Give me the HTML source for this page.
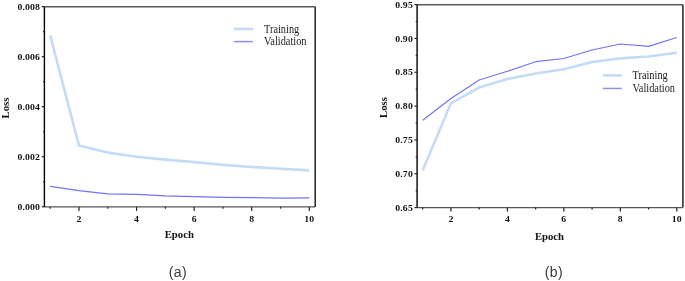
<!DOCTYPE html>
<html><head><meta charset="utf-8"><style>
html,body{margin:0;padding:0;background:#fff;}
body{width:685px;height:281px;overflow:hidden;position:relative;}
svg{position:absolute;left:0;top:0;will-change:transform;}
.tk{font-family:"Liberation Serif",serif;font-weight:bold;font-size:9.5px;letter-spacing:0.12px;fill:#111;}
.at{font-family:"Liberation Serif",serif;font-weight:bold;font-size:10.7px;fill:#111;}
.lg{font-family:"Liberation Serif",serif;font-size:10.35px;fill:#1c1c1c;}
.cap{font-family:"Liberation Sans",sans-serif;font-size:14px;letter-spacing:0.4px;fill:#3a3a3a;}
</style></head><body>
<svg width="685" height="281" viewBox="0 0 685 281">
<line x1="44.4" y1="6.7" x2="315.2" y2="6.7" stroke="#5a5a5a" stroke-width="1.4"/>
<line x1="315.2" y1="6.7" x2="315.2" y2="206.9" stroke="#222" stroke-width="1.5"/>
<line x1="44.4" y1="206.9" x2="315.2" y2="206.9" stroke="#555" stroke-width="1.4"/>
<line x1="44.4" y1="6.7" x2="44.4" y2="206.9" stroke="#000" stroke-width="1.4"/>
<line x1="41.8" y1="206.8" x2="44.4" y2="206.8" stroke="#222" stroke-width="1.2"/>
<text transform="translate(40.00,210.40) scale(1.03,0.94)" class="tk" text-anchor="end">0.000</text>
<line x1="43.0" y1="181.775" x2="44.4" y2="181.775" stroke="#222" stroke-width="1.2"/>
<line x1="41.8" y1="156.75" x2="44.4" y2="156.75" stroke="#222" stroke-width="1.2"/>
<text transform="translate(40.00,160.35) scale(1.03,0.94)" class="tk" text-anchor="end">0.002</text>
<line x1="43.0" y1="131.72500000000002" x2="44.4" y2="131.72500000000002" stroke="#222" stroke-width="1.2"/>
<line x1="41.8" y1="106.7" x2="44.4" y2="106.7" stroke="#222" stroke-width="1.2"/>
<text transform="translate(40.00,110.30) scale(1.03,0.94)" class="tk" text-anchor="end">0.004</text>
<line x1="43.0" y1="81.675" x2="44.4" y2="81.675" stroke="#222" stroke-width="1.2"/>
<line x1="41.8" y1="56.650000000000006" x2="44.4" y2="56.650000000000006" stroke="#222" stroke-width="1.2"/>
<text transform="translate(40.00,60.25) scale(1.03,0.94)" class="tk" text-anchor="end">0.006</text>
<line x1="43.0" y1="31.625" x2="44.4" y2="31.625" stroke="#222" stroke-width="1.2"/>
<line x1="41.8" y1="6.599999999999994" x2="44.4" y2="6.599999999999994" stroke="#222" stroke-width="1.2"/>
<text transform="translate(40.00,10.20) scale(1.03,0.94)" class="tk" text-anchor="end">0.008</text>
<line x1="50.2" y1="206.9" x2="50.2" y2="208.70000000000002" stroke="#222" stroke-width="1.2"/>
<line x1="78.9888888888889" y1="206.9" x2="78.9888888888889" y2="210.9" stroke="#222" stroke-width="1.2"/>
<text transform="translate(78.99,221.50) scale(1.03,0.94)" class="tk" text-anchor="middle">2</text>
<line x1="107.77777777777779" y1="206.9" x2="107.77777777777779" y2="208.70000000000002" stroke="#222" stroke-width="1.2"/>
<line x1="136.56666666666666" y1="206.9" x2="136.56666666666666" y2="210.9" stroke="#222" stroke-width="1.2"/>
<text transform="translate(136.57,221.50) scale(1.03,0.94)" class="tk" text-anchor="middle">4</text>
<line x1="165.35555555555555" y1="206.9" x2="165.35555555555555" y2="208.70000000000002" stroke="#222" stroke-width="1.2"/>
<line x1="194.14444444444445" y1="206.9" x2="194.14444444444445" y2="210.9" stroke="#222" stroke-width="1.2"/>
<text transform="translate(194.14,221.50) scale(1.03,0.94)" class="tk" text-anchor="middle">6</text>
<line x1="222.93333333333334" y1="206.9" x2="222.93333333333334" y2="208.70000000000002" stroke="#222" stroke-width="1.2"/>
<line x1="251.72222222222223" y1="206.9" x2="251.72222222222223" y2="210.9" stroke="#222" stroke-width="1.2"/>
<text transform="translate(251.72,221.50) scale(1.03,0.94)" class="tk" text-anchor="middle">8</text>
<line x1="280.5111111111111" y1="206.9" x2="280.5111111111111" y2="208.70000000000002" stroke="#222" stroke-width="1.2"/>
<line x1="309.3" y1="206.9" x2="309.3" y2="210.9" stroke="#222" stroke-width="1.2"/>
<text transform="translate(309.30,221.50) scale(1.03,0.94)" class="tk" text-anchor="middle">10</text>
<polyline points="50.20,35.30 78.99,145.60 107.78,152.60 136.57,156.80 165.36,159.60 194.14,162.10 222.93,164.90 251.72,167.00 280.51,168.80 309.30,170.40" fill="none" stroke="#c4dbf6" stroke-width="2.6" stroke-linejoin="round"/>
<polyline points="50.20,186.40 78.99,190.70 107.78,193.90 136.57,194.40 165.36,195.90 194.14,196.60 222.93,197.30 251.72,197.60 280.51,198.10 309.30,197.80" fill="none" stroke="#7272f4" stroke-width="1.2" stroke-linejoin="round"/>
<line x1="233.7" y1="29.0" x2="253.0" y2="29.0" stroke="#c4dbf6" stroke-width="2.6"/>
<line x1="233.7" y1="41.6" x2="253.0" y2="41.6" stroke="#8e8ef6" stroke-width="1.5"/>
<text transform="translate(264.0,33.00) scale(1,1.12)" class="lg">Training</text>
<text transform="translate(264.0,45.35) scale(1,1.12)" class="lg">Validation</text>
<text x="179.3" y="237.7" class="at" text-anchor="middle">Epoch</text>
<text transform="translate(8.9,108.0) rotate(-90)" class="at" text-anchor="middle">Loss</text>
<line x1="417.1" y1="4.8" x2="682.9" y2="4.8" stroke="#5a5a5a" stroke-width="1.4"/>
<line x1="682.9" y1="4.8" x2="682.9" y2="207.6" stroke="#222" stroke-width="1.5"/>
<line x1="417.1" y1="207.6" x2="682.9" y2="207.6" stroke="#555" stroke-width="1.4"/>
<line x1="417.1" y1="4.8" x2="417.1" y2="207.6" stroke="#000" stroke-width="1.4"/>
<line x1="414.5" y1="207.6" x2="417.1" y2="207.6" stroke="#222" stroke-width="1.2"/>
<text transform="translate(412.90,210.70) scale(1.03,0.94)" class="tk" text-anchor="end">0.65</text>
<line x1="415.70000000000005" y1="190.6833333333333" x2="417.1" y2="190.6833333333333" stroke="#222" stroke-width="1.2"/>
<line x1="414.5" y1="173.76666666666662" x2="417.1" y2="173.76666666666662" stroke="#222" stroke-width="1.2"/>
<text transform="translate(412.90,176.87) scale(1.03,0.94)" class="tk" text-anchor="end">0.70</text>
<line x1="415.70000000000005" y1="156.84999999999994" x2="417.1" y2="156.84999999999994" stroke="#222" stroke-width="1.2"/>
<line x1="414.5" y1="139.93333333333334" x2="417.1" y2="139.93333333333334" stroke="#222" stroke-width="1.2"/>
<text transform="translate(412.90,143.03) scale(1.03,0.94)" class="tk" text-anchor="end">0.75</text>
<line x1="415.70000000000005" y1="123.01666666666665" x2="417.1" y2="123.01666666666665" stroke="#222" stroke-width="1.2"/>
<line x1="414.5" y1="106.09999999999998" x2="417.1" y2="106.09999999999998" stroke="#222" stroke-width="1.2"/>
<text transform="translate(412.90,109.20) scale(1.03,0.94)" class="tk" text-anchor="end">0.80</text>
<line x1="415.70000000000005" y1="89.18333333333331" x2="417.1" y2="89.18333333333331" stroke="#222" stroke-width="1.2"/>
<line x1="414.5" y1="72.2666666666666" x2="417.1" y2="72.2666666666666" stroke="#222" stroke-width="1.2"/>
<text transform="translate(412.90,75.37) scale(1.03,0.94)" class="tk" text-anchor="end">0.85</text>
<line x1="415.70000000000005" y1="55.349999999999994" x2="417.1" y2="55.349999999999994" stroke="#222" stroke-width="1.2"/>
<line x1="414.5" y1="38.43333333333331" x2="417.1" y2="38.43333333333331" stroke="#222" stroke-width="1.2"/>
<text transform="translate(412.90,41.53) scale(1.03,0.94)" class="tk" text-anchor="end">0.90</text>
<line x1="415.70000000000005" y1="21.51666666666665" x2="417.1" y2="21.51666666666665" stroke="#222" stroke-width="1.2"/>
<line x1="414.5" y1="4.599999999999966" x2="417.1" y2="4.599999999999966" stroke="#222" stroke-width="1.2"/>
<text transform="translate(412.90,7.70) scale(1.03,0.94)" class="tk" text-anchor="end">0.95</text>
<line x1="422.7" y1="207.6" x2="422.7" y2="209.4" stroke="#222" stroke-width="1.2"/>
<line x1="450.93333333333334" y1="207.6" x2="450.93333333333334" y2="211.6" stroke="#222" stroke-width="1.2"/>
<text transform="translate(450.93,222.40) scale(1.03,0.94)" class="tk" text-anchor="middle">2</text>
<line x1="479.16666666666663" y1="207.6" x2="479.16666666666663" y2="209.4" stroke="#222" stroke-width="1.2"/>
<line x1="507.4" y1="207.6" x2="507.4" y2="211.6" stroke="#222" stroke-width="1.2"/>
<text transform="translate(507.40,222.40) scale(1.03,0.94)" class="tk" text-anchor="middle">4</text>
<line x1="535.6333333333333" y1="207.6" x2="535.6333333333333" y2="209.4" stroke="#222" stroke-width="1.2"/>
<line x1="563.8666666666666" y1="207.6" x2="563.8666666666666" y2="211.6" stroke="#222" stroke-width="1.2"/>
<text transform="translate(563.87,222.40) scale(1.03,0.94)" class="tk" text-anchor="middle">6</text>
<line x1="592.0999999999999" y1="207.6" x2="592.0999999999999" y2="209.4" stroke="#222" stroke-width="1.2"/>
<line x1="620.3333333333333" y1="207.6" x2="620.3333333333333" y2="211.6" stroke="#222" stroke-width="1.2"/>
<text transform="translate(620.33,222.40) scale(1.03,0.94)" class="tk" text-anchor="middle">8</text>
<line x1="648.5666666666666" y1="207.6" x2="648.5666666666666" y2="209.4" stroke="#222" stroke-width="1.2"/>
<line x1="676.8" y1="207.6" x2="676.8" y2="211.6" stroke="#222" stroke-width="1.2"/>
<text transform="translate(676.80,222.40) scale(1.03,0.94)" class="tk" text-anchor="middle">10</text>
<polyline points="422.70,170.30 450.93,103.30 479.17,87.50 507.40,79.00 535.63,73.50 563.87,69.20 592.10,62.00 620.33,58.40 648.57,56.50 676.80,52.70" fill="none" stroke="#c4dbf6" stroke-width="2.6" stroke-linejoin="round"/>
<polyline points="422.70,120.20 450.93,98.50 479.17,80.00 507.40,71.30 535.63,61.70 563.87,58.50 592.10,50.00 620.33,44.00 648.57,46.40 676.80,37.50" fill="none" stroke="#7272f4" stroke-width="1.2" stroke-linejoin="round"/>
<line x1="602.8" y1="75.4" x2="621.8" y2="75.4" stroke="#c4dbf6" stroke-width="2.6"/>
<line x1="602.8" y1="88.45" x2="621.8" y2="88.45" stroke="#8e8ef6" stroke-width="1.5"/>
<text transform="translate(632.5,79.40) scale(1,1.12)" class="lg">Training</text>
<text transform="translate(632.5,92.20) scale(1,1.12)" class="lg">Validation</text>
<text x="549.5" y="239.8" class="at" text-anchor="middle">Epoch</text>
<text transform="translate(387.3,107.6) rotate(-90)" class="at" text-anchor="middle">Loss</text>
<text x="177.8" y="277.2" class="cap" text-anchor="middle">(a)</text>
<text x="553.9" y="277.2" class="cap" text-anchor="middle">(b)</text>
</svg>
</body></html>
